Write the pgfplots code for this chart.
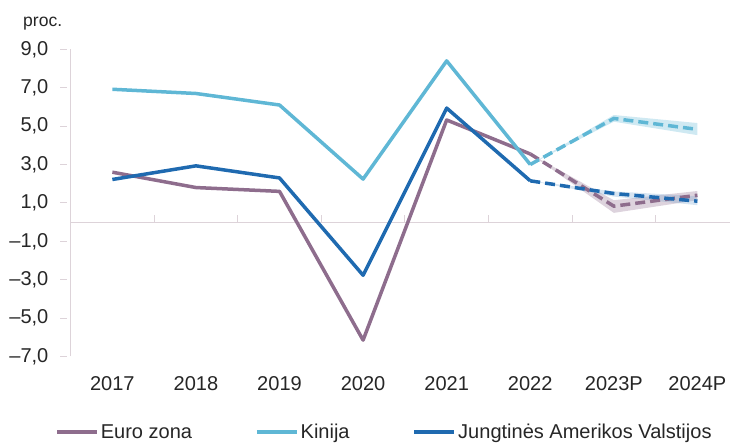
\documentclass[border=0pt]{standalone}
\usepackage{fontspec}
\setmainfont{Liberation Sans}
\usepackage{pgfplots}
\pgfplotsset{compat=1.18}
\definecolor{euroC}{HTML}{8E6D8D}
\definecolor{kinC}{HTML}{5FB7D5}
\definecolor{usC}{HTML}{1F6AB0}
\definecolor{axC}{HTML}{DDD3D9}
\definecolor{txtC}{HTML}{262626}
\newcommand{\lab}{\fontsize{20bp}{24bp}\selectfont}

\begin{document}
\begin{tikzpicture}
\begin{axis}[
    name=ax,
    scale only axis, width=658.8bp, height=306.8bp,
    xmin=-0.5, xmax=7.39, ymin=-7, ymax=9,
    axis x line=bottom, axis y line=left,
    x axis line style={draw=none},
    y axis line style={draw=axC, line width=1bp, -},
    xtick={0,...,7},
    xticklabels={2017,2018,2019,2020,2021,2022,2023P,2024P},
    x tick style={draw=none},
    xticklabel style={anchor=center, yshift=-23.5bp},
    ytick={-7,-5,...,9},
    yticklabels={{\textendash7,0}, {\textendash5,0}, {\textendash3,0}, {\textendash1,0},
                 {1,0}, {3,0}, {5,0}, {7,0}, {9,0}},
    y tick style={draw=axC, line width=1bp, xshift=-7bp},
    major tick length=7bp,
    yticklabel style={anchor=east, inner sep=0pt, xshift=-18.5bp},
    tick label style={font=\lab, text=txtC},
    clip=false,
    legend columns=3,
    legend cell align=left,
    legend image code/.code={\draw[#1] (0bp,0bp) -- (40bp,0bp);},
    legend style={at={(0,0)}, anchor=west, xshift=-15.5bp, yshift=-75.5bp,
        draw=none, fill=none, inner sep=0pt, font=\lab, text=txtC,
        nodes={inner xsep=2bp, inner ysep=0pt},
        /tikz/every even column/.append style={column sep=61bp}},
]
% zero line with category boundary ticks
\draw[axC, line width=1bp] (axis cs:-0.5,0) -- (axis cs:7.39,0);
\pgfplotsinvokeforeach{0.5,1.5,2.5,3.5,4.5,5.5,6.5}{
  \draw[axC, line width=1bp] (axis cs:#1,0) -- ([yshift=7bp]axis cs:#1,0);
}

% forecast ranges
\addplot[fill=euroC, fill opacity=0.3, draw=none, forget plot]
  coordinates {(5,3.55) (6,1.14) (7,1.62) (7,1.14) (6,0.48) (5,3.55)};
\addplot[fill=kinC, fill opacity=0.3, draw=none, forget plot]
  coordinates {(5,3.0) (6,5.58) (7,5.16) (7,4.53) (6,5.23) (5,3.0)};
\addplot[fill=usC!60, fill opacity=0.3, draw=none, forget plot]
  coordinates {(5,2.15) (6,1.6) (7,1.35) (7,0.88) (6,1.33) (5,2.15)};

% actual values
\addplot[euroC, line width=3.5bp, line join=round]
  coordinates {(0,2.6) (1,1.8) (2,1.6) (3,-6.15) (4,5.32) (5,3.55)};
\addplot[kinC, line width=3.5bp, line join=round]
  coordinates {(0,6.92) (1,6.7) (2,6.1) (3,2.24) (4,8.4) (5,3.0)};
\addplot[usC, line width=3.5bp, line join=round]
  coordinates {(0,2.22) (1,2.93) (2,2.3) (3,-2.77) (4,5.94) (5,2.15)};

% forecasts
\addplot[euroC, line width=3.5bp, dash pattern=on 10bp off 5bp, forget plot]
  coordinates {(5,3.55) (6,0.83) (7,1.4)};
\addplot[kinC, line width=3.5bp, dash pattern=on 10bp off 5bp, forget plot]
  coordinates {(5,3.0) (6,5.4) (7,4.83)};
\addplot[usC, line width=3.5bp, dash pattern=on 10bp off 5bp, forget plot]
  coordinates {(5,2.15) (6,1.49) (7,1.09)};

\legend{Euro zona, Kinija, Jungtinės Amerikos Valstijos}
\end{axis}
\node[anchor=base west, inner sep=0pt, text=txtC, font=\fontsize{17.5bp}{20bp}\selectfont]
  at ([xshift=-47.5bp, yshift=23.3bp]ax.north west) {proc.};
\pgfresetboundingbox
\path[use as bounding box] ([xshift=-70.5bp, yshift=-89bp]ax.south west)
  rectangle ([yshift=49.3bp]ax.north east);
\end{tikzpicture}
\end{document}
